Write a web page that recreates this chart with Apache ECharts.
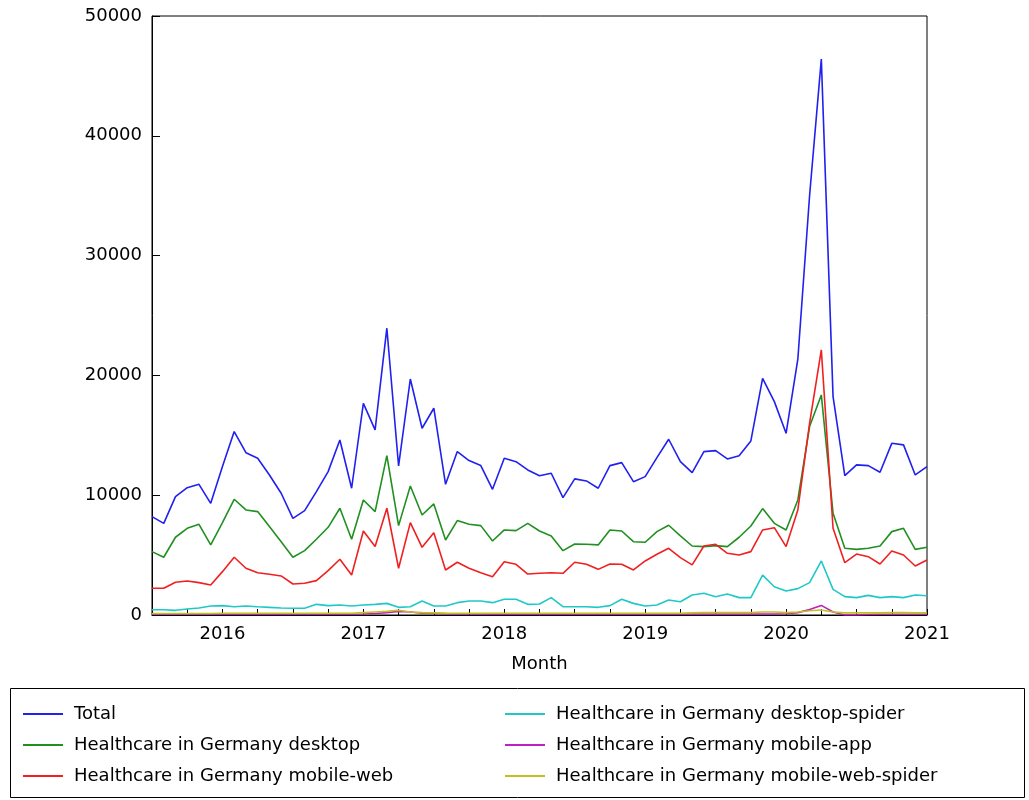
<!DOCTYPE html>
<html><head><meta charset="utf-8">
<script src="https://cdn.jsdelivr.net/npm/echarts@6/dist/echarts.min.js"></script>
<style>html,body{margin:0;background:#fff}#c{width:1029px;height:800px}</style>
</head><body><div id="c"></div>
<script>
// monthly, Jul 2015 .. Jan 2021 (index 0 = Jul 2015)
var months = [];
for (var y = 2015; y <= 2021; y++) for (var m = 1; m <= 12; m++) {
  if ((y === 2015 && m < 7) || (y === 2021 && m > 1)) continue;
  months.push(y + '-' + (m < 10 ? '0' + m : m));
}
var total = [8210,7650,9880,10630,10910,9320,12390,15310,13550,13080,11690,10160,8070,8710,10300,11970,14610,10580,17670,15450,23940,12440,19700,15590,17260,10910,13640,12890,12470,10490,13080,12800,12110,11630,11830,9800,11360,11190,10580,12470,12720,11130,11550,13140,14670,12800,11880,13640,13720,13030,13300,14530,19760,17810,15170,21350,35000,46400,18230,11630,12530,12470,11910,14330,14200,11690,12390];
var desktop = [5290,4820,6490,7240,7570,5850,7710,9660,8770,8630,7380,6120,4820,5370,6320,7320,8910,6320,9600,8630,13300,7460,10770,8350,9270,6260,7880,7570,7460,6180,7100,7040,7650,7010,6600,5370,5930,5900,5850,7100,7010,6120,6070,6960,7490,6600,5760,5710,5790,5710,6490,7430,8880,7650,7100,9600,15730,18370,8490,5570,5480,5570,5760,6960,7240,5480,5650];
var mobileWeb = [2230,2230,2730,2840,2700,2500,3620,4820,3900,3530,3400,3260,2590,2650,2870,3700,4650,3340,7010,5710,8910,3900,7710,5650,6870,3760,4400,3900,3530,3200,4450,4230,3420,3480,3530,3480,4400,4230,3810,4260,4230,3760,4510,5070,5570,4790,4180,5760,5900,5150,5010,5290,7100,7290,5710,8770,16000,22130,7240,4370,5090,4870,4260,5340,5010,4090,4590];
var desktopSpider = [440,440,390,500,580,750,780,690,750,690,640,580,560,560,890,780,830,750,830,890,970,640,690,1170,750,750,1030,1170,1170,1030,1310,1310,890,920,1450,690,690,690,640,780,1310,970,750,830,1250,1110,1670,1810,1530,1750,1450,1450,3330,2360,2000,2200,2700,4510,2140,1530,1450,1640,1450,1530,1450,1670,1610];
var mobileApp = [60,60,60,60,60,60,60,60,60,60,60,60,60,60,60,60,60,60,80,120,200,300,250,150,120,100,90,80,80,70,70,70,70,70,70,70,70,70,70,70,70,70,70,70,70,70,70,70,70,70,70,70,80,80,100,200,450,800,250,0,0,40,60,60,60,60,60];
var mobileWebSpider = [120,120,120,130,130,130,140,140,140,140,140,140,140,140,150,150,150,150,200,250,300,400,250,200,180,160,150,150,150,150,150,150,150,150,150,150,150,150,150,150,150,150,150,150,150,150,180,200,200,200,200,200,250,250,200,250,350,420,250,180,180,180,180,200,200,180,180];

var names = ['Total','Healthcare in Germany desktop','Healthcare in Germany mobile-web','Healthcare in Germany desktop-spider','Healthcare in Germany mobile-app','Healthcare in Germany mobile-web-spider'];
var colors = ['#2020f0','#209020','#f02020','#20c8c8','#c020c0','#c0c020'];
var values = [total, desktop, mobileWeb, desktopSpider, mobileApp, mobileWebSpider];

var font = 'DejaVu Sans';
var series = values.map(function (v, k) {
  return {
    name: names[k], type: 'line', showSymbol: false, silent: true,
    data: v.map(function (d, i) { return [i, d]; }),
    lineStyle: { color: colors[k], width: 1.6 }, itemStyle: { color: colors[k] }
  };
});

var legendBase = {
  orient: 'vertical', icon: 'rect', itemWidth: 40, itemHeight: 2, itemGap: 13,
  textStyle: { fontFamily: font, fontSize: 18, color: '#000', padding: [0, 0, 0, 6] }, selectedMode: false
};

var chart = echarts.init(document.getElementById('c'));
chart.setOption({
  animation: false,
  color: colors,
  textStyle: { fontFamily: font },
  grid: { left: 152, right: 102, top: 16, bottom: 185, show: true, borderColor: '#000', borderWidth: 1 },
  xAxis: {
    type: 'value', min: 0, max: 66, interval: 3,
    name: 'Month', nameLocation: 'middle', nameGap: 40,
    nameTextStyle: { fontFamily: font, fontSize: 18, color: '#000' },
    axisLine: { lineStyle: { color: '#000' } },
    axisTick: { inside: true, length: 6, lineStyle: { color: '#000' } },
    splitLine: { show: false },
    axisLabel: {
      fontFamily: font, fontSize: 18, color: '#000', margin: 10, showMinLabel: true, showMaxLabel: true,
      formatter: function (v) { return (v - 6) % 12 === 0 ? String(2016 + (v - 6) / 12) : ''; }
    }
  },
  yAxis: {
    type: 'value', min: 0, max: 50000, interval: 10000,
    axisLine: { show: true, lineStyle: { color: '#000' } },
    axisTick: { inside: true, length: 8, lineStyle: { color: '#000' } },
    splitLine: { show: false },
    axisLabel: { fontFamily: font, fontSize: 18, color: '#000', margin: 10, formatter: function (v) { return String(v); } }
  },
  legend: [
    Object.assign({ left: 18, top: 700, data: names.slice(0, 3) }, legendBase),
    Object.assign({ left: 500, top: 700, data: names.slice(3) }, legendBase)
  ],
  graphic: [{
    type: 'rect', left: 8, top: 686, shape: { width: 1014, height: 109 },
    style: { fill: 'none', stroke: '#000', lineWidth: 1 }, silent: true
  }],
  series: series
});
</script></body></html>
